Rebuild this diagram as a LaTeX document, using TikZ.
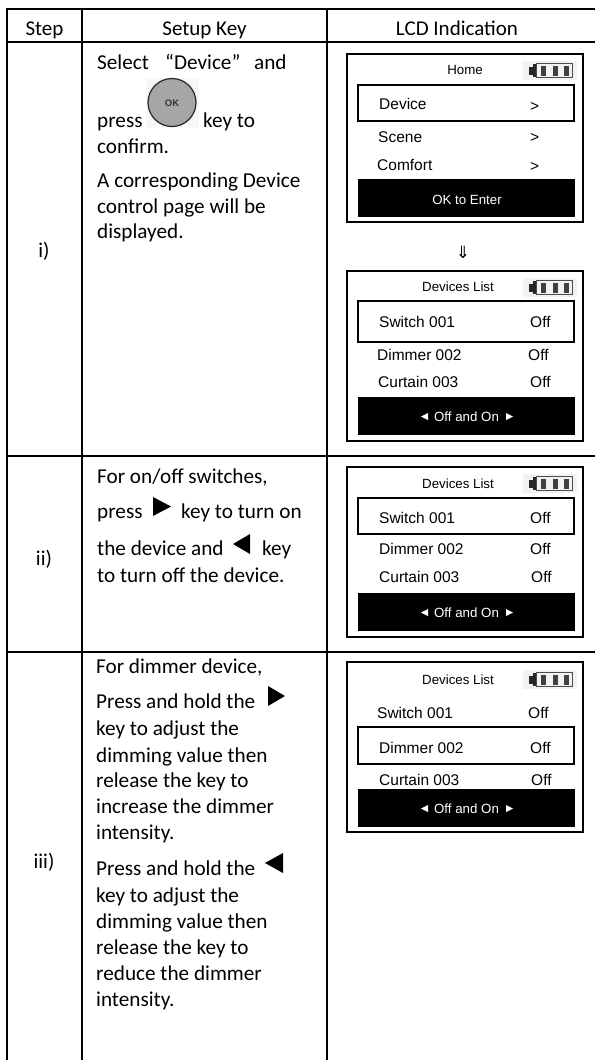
\documentclass[tikz,border=0pt]{standalone}
\usepackage{fontspec}
\setmainfont{Carlito}
\newfontfamily\lcdfont{Liberation Sans}
\newfontfamily\dejafont{DejaVu Sans}
\tikzset{
  x=1pt,y=-1pt,
  rule/.style={draw=black,line width=1.6pt},
  bodytext/.style={anchor=base west,inner sep=0pt,font=\fontsize{21.2}{25}\selectfont},
  headtext/.style={anchor=base,inner sep=0pt,font=\fontsize{21}{25}\selectfont},
  lcdtext/.style={anchor=base west,inner sep=0pt,font=\lcdfont\fontsize{15.5}{18}\selectfont},
  lcdsmall/.style={anchor=base,inner sep=0pt,font=\lcdfont\fontsize{13.3}{16}\selectfont},
  tri/.style={fill=black,draw=none},
  lcdouter/.style={draw=black,line width=2pt,fill=white},
  lcdsel/.style={draw=black,line width=1.5pt,fill=white},
  lcdbar/.style={fill=black,draw=none},
}
\newcommand{\battery}[2]{%
  \fill[black!5] (#1,#2) rectangle ++(54,19);
  \fill[black!85] (#1+6,#2+5.5) rectangle ++(5,8);
  \fill[black!85] (#1+10,#2+2.5) rectangle ++(3.5,13.5);
  \draw[black!70,line width=0.8pt] (#1+13,#2+2.5) rectangle (#1+49,#2+16);
  \fill[black!75] (#1+18,#2+4.5) rectangle ++(5,10);
  \fill[black!75] (#1+30,#2+4.5) rectangle ++(5,10);
  \fill[black!75] (#1+41,#2+4.5) rectangle ++(5,10);
}
\newcommand{\offon}[1]{%
  \fill[white] (428,#1-8) -- (421,#1-4.5) -- (428,#1-1) -- cycle;
  \fill[white] (506,#1-8) -- (513,#1-4.5) -- (506,#1-1) -- cycle;
}
\begin{document}
\begin{tikzpicture}
\useasboundingbox (0,0) rectangle (595,1060);
\fill[white] (0,0) rectangle (595,1060);
% table rules
\draw[rule] (7,8.2) -- (7,1060);
\draw[rule] (82,8.2) -- (82,1060);
\draw[rule] (327,8.2) -- (327,1060);
\draw[rule] (6.2,9) -- (595,9);
\draw[rule] (6.2,42) -- (595,42);
\draw[rule] (6.2,456) -- (595,456);
\draw[rule] (6.2,652) -- (595,652);
% header
\node[headtext] (hstep) at (44.5,35) {Step};
\node[headtext] (hkey) at (204.5,35) {Setup Key};
\node[headtext] (hlcd) at (457,35) {LCD Indication};
% step labels
\node[headtext] (si) at (44,257) {i)};
\node[headtext] (sii) at (44,565) {ii)};
\node[headtext] (siii) at (44,868) {iii)};
% row i text
\node[bodytext] (t1) at (97,69) {Select};
\node[bodytext] (t1b) at (165,69) {“Device”};
\node[bodytext] (t1c) at (254,69) {and};
\node[bodytext] (t2) at (97,127) {press};
\node[bodytext] (t2b) at (203,127) {key to};
\node[bodytext] (t3) at (97,153) {confirm.};
\node[bodytext] (t4) at (97,187) {A corresponding Device};
\node[bodytext] (t5) at (97,213) {control page will be};
\node[bodytext] (t6) at (97,238) {displayed.};
% OK key
\fill[black!3] (146,78) rectangle (199,128);
\draw[draw=black!85,line width=1.2pt,fill=black!35] (172,102.5) circle (24);
\node[anchor=center,inner sep=0pt,font=\lcdfont\bfseries\fontsize{9.5}{11}\selectfont,text=black!80] (okk) at (172,103) {OK};
% row ii text
\node[bodytext] (u1) at (97,483) {For on/off switches,};
\node[bodytext] (u2) at (97,518) {press};
\node[bodytext] (u2b) at (181,518) {key to turn on};
\node[bodytext] (u3) at (97,555) {the device and};
\node[bodytext] (u3b) at (262,555) {key};
\node[bodytext] (u4) at (97,582) {to turn off the device.};
\fill[tri] (153,497) -- (171,506.5) -- (153,516) -- cycle;
\fill[tri] (250,534) -- (233,544) -- (250,554) -- cycle;
% row iii text
\node[bodytext] (v1) at (96,673) {For dimmer device,};
\node[bodytext] (v2) at (96,708) {Press and hold the};
\node[bodytext] (v3) at (96,735) {key to adjust the};
\node[bodytext] (v4) at (96,762) {dimming value then};
\node[bodytext] (v5) at (96,787) {release the key to};
\node[bodytext] (v6) at (96,813) {increase the dimmer};
\node[bodytext] (v7) at (96,839) {intensity.};
\node[bodytext] (v8) at (96,875) {Press and hold the};
\node[bodytext] (v9) at (96,902) {key to adjust the};
\node[bodytext] (v10) at (96,928) {dimming value then};
\node[bodytext] (v11) at (96,954) {release the key to};
\node[bodytext] (v12) at (96,980) {reduce the dimmer};
\node[bodytext] (v13) at (96,1006) {intensity.};
\fill[tri] (268,686) -- (285,696) -- (268,706) -- cycle;
\fill[tri] (283,853) -- (265,863) -- (283,873) -- cycle;
% LCD 1
\draw[lcdouter] (347,54) rectangle (583,222);
\battery{523}{61}
\draw[lcdsel] (358,85) rectangle (574,121);
\fill[lcdbar] (358,179) rectangle (575,217);
\node[lcdsmall] (a0) at (465,74) {Home};
\node[lcdtext] (a1) at (379,109) {Device};
\node[lcdtext] (a1b) at (530,111) {>};
\node[lcdtext] (a2) at (378,142) {Scene};
\node[lcdtext] (a2b) at (530,142) {>};
\node[lcdtext] (a3) at (377,170) {Comfort};
\node[lcdtext] (a3b) at (530,171) {>};
\node[lcdsmall,text=white] (a4) at (467,204) {OK to Enter};
\node[inner sep=0pt,anchor=base,font=\dejafont\fontsize{17}{19}\selectfont] (arr) at (463,258) {⇓};
% LCD 2
\draw[lcdouter] (347,271) rectangle (583,441);
\battery{523}{278}
\draw[lcdsel] (358,301) rectangle (574,342);
\fill[lcdbar] (358,397) rectangle (575,435);
\node[lcdsmall] (b0) at (458,291) {Devices List};
\node[lcdtext] (b1) at (379,327) {Switch 001};
\node[lcdtext] (b1b) at (530,327) {Off};
\node[lcdtext] (b2) at (377,360) {Dimmer 002};
\node[lcdtext] (b2b) at (528,360) {Off};
\node[lcdtext] (b3) at (378,387) {Curtain 003};
\node[lcdtext] (b3b) at (530,387) {Off};
\node[lcdsmall,text=white] (b4) at (466.5,421) {Off and On};
\offon{421}
% LCD 3
\draw[lcdouter] (347,467) rectangle (583,637);
\battery{523}{474}
\draw[lcdsel] (358,498) rectangle (574,534);
\fill[lcdbar] (358,593) rectangle (575,631);
\node[lcdsmall] (c0) at (458,488) {Devices List};
\node[lcdtext] (c1) at (379,523) {Switch 001};
\node[lcdtext] (c1b) at (530,523) {Off};
\node[lcdtext] (c2) at (379,554) {Dimmer 002};
\node[lcdtext] (c2b) at (530,554) {Off};
\node[lcdtext] (c3) at (379,582) {Curtain 003};
\node[lcdtext] (c3b) at (531,582) {Off};
\node[lcdsmall,text=white] (c4) at (466.5,617) {Off and On};
\offon{617}
% LCD 4
\draw[lcdouter] (347,662) rectangle (583,832);
\battery{523}{670}
\draw[lcdsel] (358,727) rectangle (574,764);
\fill[lcdbar] (358,789) rectangle (575,827);
\node[lcdsmall] (d0) at (458,684) {Devices List};
\node[lcdtext] (d1) at (377,718) {Switch 001};
\node[lcdtext] (d1b) at (528,718) {Off};
\node[lcdtext] (d2) at (379,753) {Dimmer 002};
\node[lcdtext] (d2b) at (530,753) {Off};
\node[lcdtext] (d3) at (379,785) {Curtain 003};
\node[lcdtext] (d3b) at (531,785) {Off};
\node[lcdsmall,text=white] (d4) at (466.5,813) {Off and On};
\offon{813}
\end{tikzpicture}
\end{document}
